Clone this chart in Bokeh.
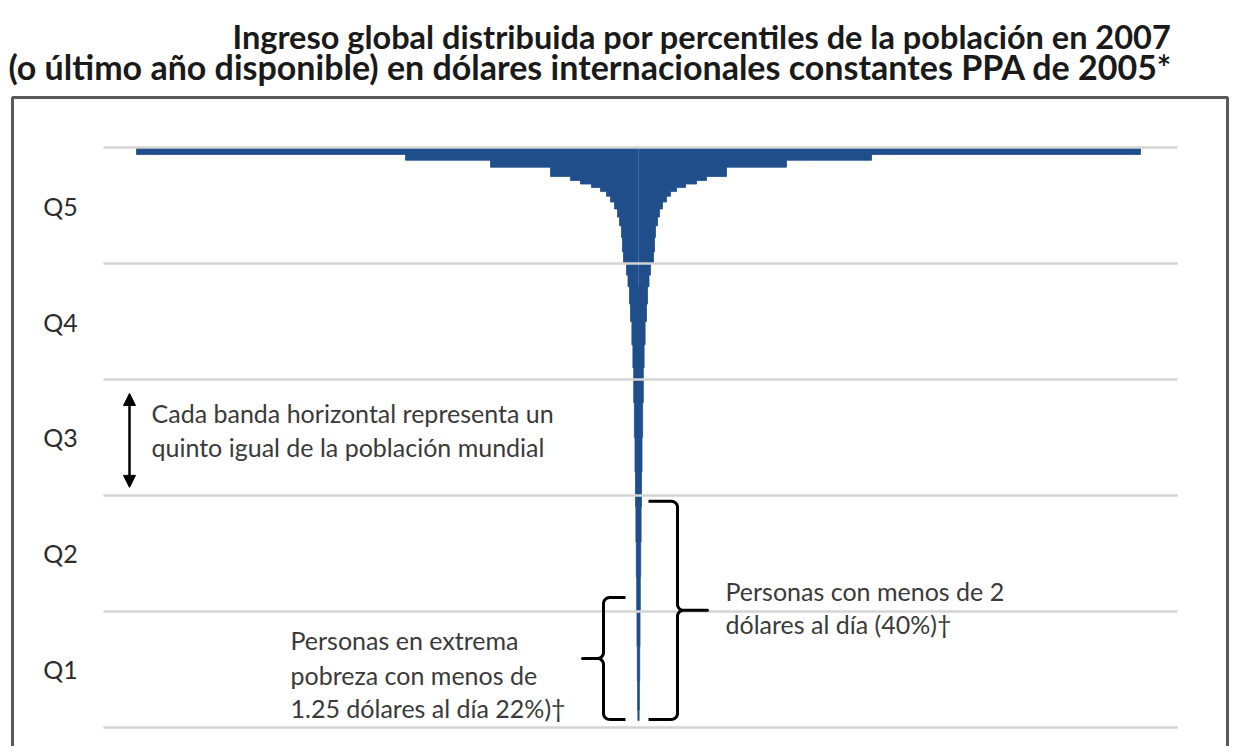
import numpy as np
from bokeh.plotting import figure
from bokeh.models import Range1d, Arrow, NormalHead
from bokeh.core.properties import value
from bokeh.embed import file_html
from bokeh.resources import INLINE

# ---------------- data ----------------
# population percentile bands (upper edge of each band, top to bottom)
band_top = [100.0, 98.8, 97.8, 96.6, 95.0, 94.3, 93.7, 93.1, 92.4, 91.6, 90.6,
            89.4, 88.0, 86.5, 84.5, 82.0, 80.0, 78.0, 76.0, 73.0, 70.0, 66.0,
            62.0, 56.0, 50.0, 44.0, 38.0, 32.0, 26.0, 20.0, 14.0, 8.0, 3.0]
band_bottom = band_top[1:] + [1.2]
# relative income of each band (half width of the "champagne glass")
band_income = [502, 233, 148, 88, 68, 58, 47, 38, 32, 28, 24,
               21, 19, 17, 16, 15, 12, 10.5, 9, 8, 6.6, 5.6,
               4.8, 4.1, 3.5, 3.0, 2.6, 2.2, 1.8, 1.5, 1.2, 0.9, 0.6]

quintile_labels = ["Q1", "Q2", "Q3", "Q4", "Q5"]
quintile_centers = [10, 30, 50, 70, 90]
quintile_edges = [0, 20, 40, 60, 80, 100]

extreme_poverty_pct = 22   # < 1.25 USD/day
poverty_pct = 40           # < 2 USD/day

title_lines = ["Ingreso global distribuida por percentiles de la población en 2007",
               "(o último año disponible)  en dólares internacionales constantes PPA de 2005*"]

# ---------------- figure ----------------
PX_Y = 5.8  # pixels per percentile unit
W, H = 1229, 746
p = figure(width=W, height=H, output_backend="svg", toolbar_location=None,
           x_range=Range1d(-638, 591), y_range=Range1d(-3.276, 125.345),
           min_border=0, background_fill_color="white", border_fill_color="white")
p.axis.visible = False
p.grid.visible = False
p.outline_line_color = None

FONT = value("Lato")
BLUE = "#1f4e8a"

# outer box
p.line(x=[-626, -626, 589, 589], y=[-10, 108.62, 108.62, -10],
       line_color="#595959", line_width=3)

# shape (income by percentile) as one stepped polygon
rx, ry = [], []
for t, b, w in zip(band_top, band_bottom, band_income):
    rx += [w, w]; ry += [t, b]
xs = rx + [-v for v in rx[::-1]]
ys = ry + ry[::-1]
p.patch(x=xs, y=ys, fill_color=BLUE, line_color=BLUE, line_width=0.8)

# faint centre line
p.line(x=[0, 0], y=[76, 100], line_color="#5079b0", line_width=1, line_alpha=0.7)

# horizontal band lines (quintile edges)
p.segment(x0=[-535] * len(quintile_edges), x1=[539] * len(quintile_edges),
          y0=quintile_edges, y1=quintile_edges, line_color="#d4d4d4", line_width=2.5)

# quintile labels
p.text(x=[-578] * 5, y=quintile_centers, text=quintile_labels, text_font=FONT,
       text_font_size="25px", text_color="#2b2b2b", text_align="center",
       text_baseline="middle")

# title
p.text(x=[-406], y=[119.14], text=[title_lines[0]], text_font=FONT,
       text_font_size="32.5px", text_font_style="bold", text_color="#1a1a1a",
       text_align="left", text_baseline="middle")
p.text(x=[-630], y=[113.97], text=[title_lines[1]], text_font=FONT,
       text_font_size="34px", text_font_style="bold", text_color="#1a1a1a",
       text_align="left", text_baseline="middle")

# double arrow over Q3
p.add_layout(Arrow(x_start=-509, y_start=41.4, x_end=-509, y_end=57.6,
                   line_width=2.5, line_color="black",
                   start=NormalHead(size=12, fill_color="black", line_color="black"),
                   end=NormalHead(size=12, fill_color="black", line_color="black")))
ann_kw = dict(text_font=FONT, text_font_size="25px", text_color="#3a3a3a",
              text_align="left", text_baseline="middle")
p.text(x=[-487, -487], y=[54.31, 48.28],
       text=["Cada banda horizontal representa un", "quinto igual de la población mundial"], **ann_kw)


# curly braces
def brace(x_s, x_e, x_t, y0, y1, r=6.0):
    ryy = r / PX_Y
    ym = (y0 + y1) / 2
    se = np.sign(x_e - x_s)
    st = np.sign(x_t - x_s)
    ph = np.linspace(0, np.pi / 2, 9)
    X, Y = [x_e], [y1]
    X += list(x_s + se * r * (1 - np.sin(ph))); Y += list(y1 - ryy * (1 - np.cos(ph)))
    X += list(x_s + st * r * (1 - np.cos(ph))); Y += list(ym + ryy * (1 - np.sin(ph)))
    X += [x_t, x_s + st * r]; Y += [ym, ym]
    X += list(x_s + st * r * (1 - np.cos(ph[::-1]))); Y += list(ym - ryy * (1 - np.sin(ph[::-1])))
    X += list(x_s + se * r * (1 - np.sin(ph[::-1]))); Y += list(y0 + ryy * (1 - np.cos(ph[::-1])))
    X += [x_e]; Y += [y0]
    return X, Y


bx, by = brace(-35, -13, -56, 1.4, extreme_poverty_pct + 0.4)
p.line(x=bx, y=by, line_color="black", line_width=3, line_join="round")
bx, by = brace(39, 10, 69, 1.4, poverty_pct - 1.0)
p.line(x=bx, y=by, line_color="black", line_width=3, line_join="round")

p.text(x=[-348, -348, -348], y=[15.0, 8.97, 3.28],
       text=["Personas en extrema", "pobreza con menos de", "1.25 dólares al día 22%)†"], **ann_kw)
p.text(x=[87, 87], y=[23.62, 17.93],
       text=["Personas con menos de 2", "dólares al día (40%)†"], **ann_kw)

open("out.html", "w").write(file_html(p, INLINE))
